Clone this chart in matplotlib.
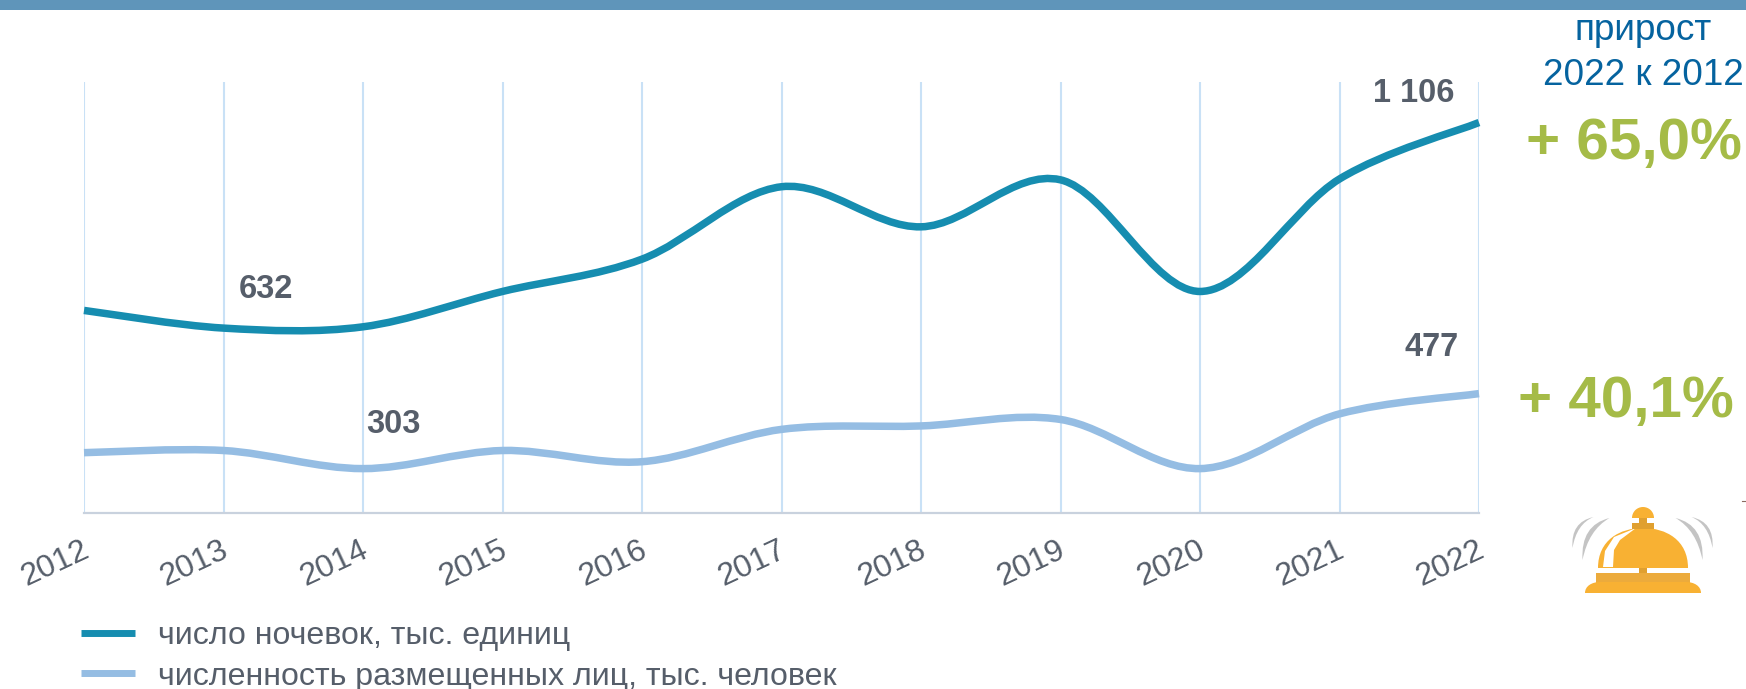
import matplotlib.pyplot as plt
import numpy as np
from matplotlib.lines import Line2D
from matplotlib.patches import PathPatch, Polygon, Rectangle, Wedge
from matplotlib.path import Path
from matplotlib.transforms import ScaledTranslation

plt.rcParams["font.family"] = ["Liberation Sans", "DejaVu Sans"]

years = [2012, 2013, 2014, 2015, 2016, 2017, 2018, 2019, 2020, 2021, 2022]
nights = [670, 629, 632, 714, 789, 957, 864, 973, 714, 975, 1106]
guests = [340, 345, 303, 345, 319, 394, 402, 417, 303, 430, 477]

nights_label = "число ночевок, тыс. единиц"
guests_label = "численность размещенных лиц, тыс. человек"

NIGHTS_COLOR = "#168db0"
GUESTS_COLOR = "#95bde3"
GRID_COLOR = "#c9e1f6"
TEXT_COLOR = "#565e6a"
GREEN = "#a5bb47"
BLUE = "#05639f"
W, H = 1746, 689


def smooth_line(x, y):
    # same kind of bezier smoothing as a "smoothed line" in a spreadsheet chart
    pts = np.column_stack([x, y]).astype(float)
    verts = [pts[0]]
    codes = [Path.MOVETO]
    for i in range(len(pts) - 1):
        before = pts[max(i - 1, 0)]
        after = pts[min(i + 2, len(pts) - 1)]
        verts.append(pts[i] + (pts[i + 1] - before) / 6)
        verts.append(pts[i + 1] - (after - pts[i]) / 6)
        verts.append(pts[i + 1])
        codes += [Path.CURVE4] * 3
    return Path(verts, codes)


def draw_bell(bg):
    # decoration next to the chart, drawn in pixels of the figure
    gold = "#f8b133"
    dark = "#e0a030"
    grey = "#c4c4c4"
    cx = 1642.5

    crescents = [
        ((49, 517), (72, 522), (70, 548), (66, 524)),
        ((33, 518), (62, 525), (60, 560), (54, 530)),
    ]
    for top, out, bottom, inner in crescents:
        for sign in (-1, 1):
            verts = [(cx + sign * p[0], p[1]) for p in (top, out, bottom, inner, top)]
            codes = [Path.MOVETO, Path.CURVE3, Path.CURVE3, Path.CURVE3, Path.CURVE3]
            bg.add_patch(PathPatch(Path(verts, codes), fc=grey, ec="none"))

    dome = Path(
        [(1598, 568), (1598, 540), (1620, 528), (1643, 528), (1666, 528), (1688, 540), (1688, 568), (1598, 568)],
        [Path.MOVETO] + [Path.CURVE4] * 6 + [Path.CLOSEPOLY],
    )
    bg.add_patch(PathPatch(dome, fc=gold, ec="none"))
    bg.add_patch(Polygon([(1603, 567), (1613, 567), (1614, 550), (1620, 540), (1636, 528),
                          (1614, 537), (1605, 551)], fc="white", ec="none"))
    bg.add_patch(Rectangle((1632, 523), 22, 6, fc=dark, ec="none"))
    bg.add_patch(Rectangle((1639, 517), 8, 7, fc=dark, ec="none"))
    bg.add_patch(Wedge((1643, 518), 11, 180, 360, fc=gold, ec="none"))
    bg.add_patch(Rectangle((1639, 568), 8, 6, fc=dark, ec="none"))
    bg.add_patch(Rectangle((1596, 573), 94, 10, fc="#ecab3c", ec="none"))
    base = Path(
        [(1585, 593), (1585, 586), (1592, 582), (1600, 582), (1686, 582), (1694, 582), (1701, 586), (1701, 593), (1585, 593)],
        [Path.MOVETO] + [Path.CURVE4] * 3 + [Path.LINETO] + [Path.CURVE4] * 3 + [Path.CLOSEPOLY],
    )
    bg.add_patch(PathPatch(base, fc=gold, ec="none"))


fig = plt.figure(figsize=(W / 100, H / 100), dpi=100)

# pixel layer for the header strip, right column and the bell
bg = fig.add_axes([0, 0, 1, 1])
bg.set_xlim(0, W)
bg.set_ylim(H, 0)
bg.axis("off")
bg.add_patch(Rectangle((0, 0), W, 10, fc="#5f95ba", ec="none"))
bg.plot([1742, 1746], [501, 501], color="#8a6a60", lw=0.8)
bg.text(1643, 40, "прирост", color=BLUE, fontsize=26.6, ha="center", va="baseline")
bg.text(1643, 85, "2022 к 2012", color=BLUE, fontsize=26.6, ha="center", va="baseline")
bg.text(1634, 159, "+ 65,0%", color=GREEN, fontsize=42, fontweight="bold", ha="center", va="baseline")
bg.text(1626, 417, "+ 40,1%", color=GREEN, fontsize=42, fontweight="bold", ha="center", va="baseline")
draw_bell(bg)

ax = fig.add_axes([84 / W, 1 - 513 / H, (1479 - 84) / W, (513 - 82) / H])
ax.patch.set_alpha(0)
ax.set_xlim(years[0], years[-1])
ax.set_ylim(200, 1200)

ax.grid(axis="x", color=GRID_COLOR, lw=1.5)
ax.set_axisbelow(True)
for name in ("top", "left", "right"):
    ax.spines[name].set_visible(False)
ax.spines["bottom"].set_color("#c9d2de")
ax.spines["bottom"].set_linewidth(1.6)
ax.set_yticks([])
ax.set_xticks(years)
ax.set_xticklabels(years, rotation=25, ha="right", rotation_mode="anchor",
                   fontsize=23, color=TEXT_COLOR)
ax.tick_params(axis="x", length=0, pad=16)
shift = ScaledTranslation(-3 / 100, 0, fig.dpi_scale_trans)
for tick in ax.get_xticklabels():
    tick.set_transform(tick.get_transform() + shift)

ax.add_patch(PathPatch(smooth_line(years, guests), fill=False, ec=GUESTS_COLOR,
                       lw=5.4, capstyle="butt", clip_on=False, zorder=3))
ax.add_patch(PathPatch(smooth_line(years, nights), fill=False, ec=NIGHTS_COLOR,
                       lw=5.4, capstyle="butt", clip_on=False, zorder=3))

labels = [
    (years[2], nights[2], "632", -70, 27),
    (years[2], guests[2], "303", 22, 32),
    (years[10], nights[10], "1 106", -47, 21),
    (years[10], guests[10], "477", -34, 33),
]
for x, y, s, dx, dy in labels:
    ax.annotate(s, (x, y), xytext=(dx, dy), textcoords="offset points", ha="center",
                va="center", fontsize=23.5, fontweight="bold", color=TEXT_COLOR)

handles = [
    Line2D([], [], color=NIGHTS_COLOR, lw=5, solid_capstyle="butt"),
    Line2D([], [], color=GUESTS_COLOR, lw=5, solid_capstyle="butt"),
]
fig.legend(handles, [nights_label, guests_label], loc="upper left",
           bbox_to_anchor=(81 / W, 1 - 621 / H), frameon=False, fontsize=23.1,
           labelcolor=TEXT_COLOR, handlelength=1.69, handletextpad=0.72,
           labelspacing=0.33, borderpad=0, borderaxespad=0)

fig.savefig("out.png", dpi=100)
